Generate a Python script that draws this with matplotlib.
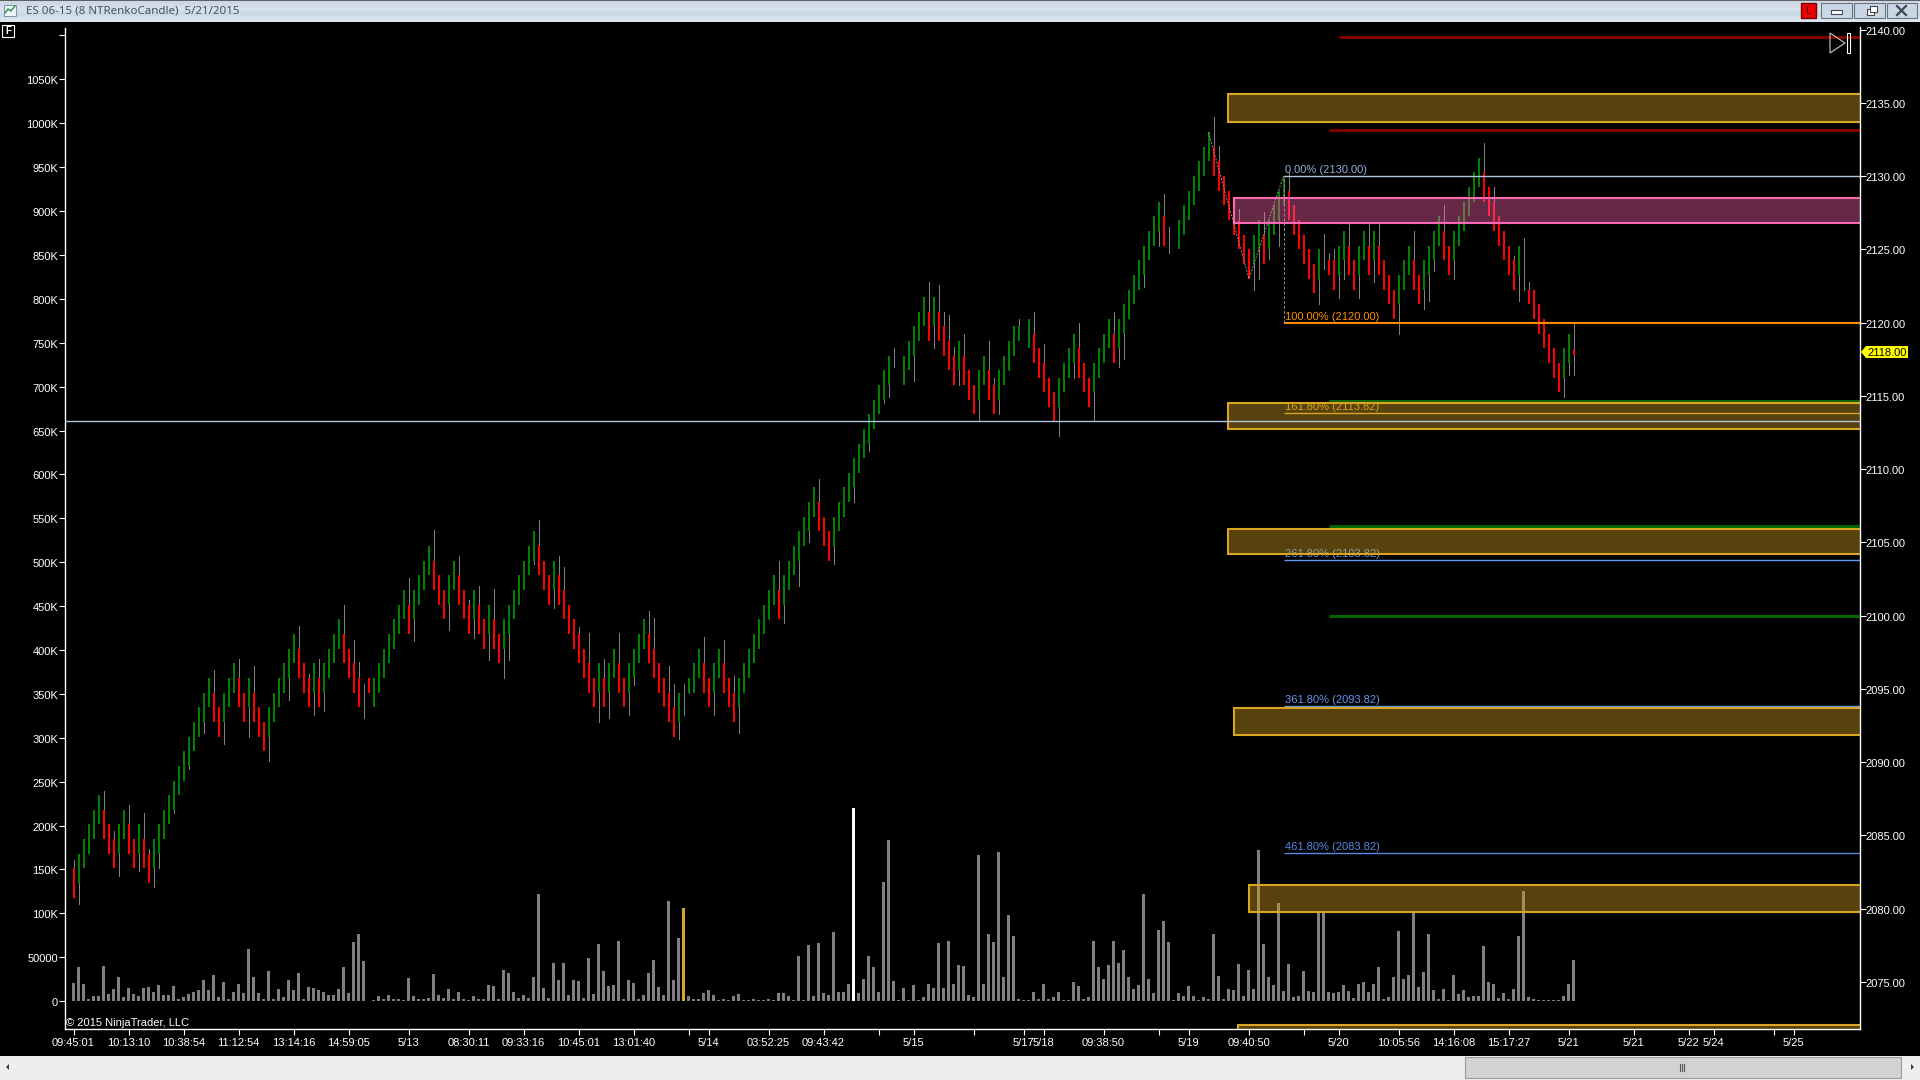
import matplotlib
matplotlib.use('Agg')
import matplotlib.pyplot as plt
from matplotlib.patches import Rectangle, Polygon
from matplotlib.transforms import ScaledTranslation

plt.rcParams['font.family'] = ['Liberation Sans', 'DejaVu Sans']

# top of each renko body, None where the bar has only a wick
candle_top = [
    2082.75, 2083.75, 2084.75, 2085.75, 2086.75, 2087.75, 2086.75, 2085.75, 2084.75, 2085.75,
    2086.75, 2085.75, 2084.75, 2085.75, 2084.75, 2083.75, 2084.75, 2085.75, 2086.75, 2087.75,
    2088.75, 2089.75, 2090.75, 2091.75, 2092.75, 2093.75, 2094.75, 2095.75, 2094.75, 2093.75,
    2094.75, 2095.75, 2096.75, 2095.75, 2094.75, 2095.75, 2094.75, 2093.75, 2092.75, 2093.75,
    2094.75, 2095.75, 2096.75, 2097.75, 2098.75, 2097.75, 2096.75, 2095.75, 2096.75, 2095.75,
    2096.75, 2097.75, 2098.75, 2099.75, 2098.75, 2097.75, 2096.75, 2095.75, None, 2095.75,
    2095.75, 2096.75, 2097.75, 2098.75, 2099.75, 2100.75, 2101.75, 2100.75, 2101.75, 2102.75,
    2103.75, 2104.75, 2103.75, 2102.75, 2101.75, 2102.75, 2103.75, 2102.75, 2101.75, 2100.75,
    2101.75, 2100.75, 2099.75, 2100.75, 2099.75, 2098.75, 2099.75, 2100.75, 2101.75, 2102.75,
    2103.75, 2104.75, 2105.75, 2104.75, 2103.75, 2102.75, 2103.75, 2102.75, 2101.75, 2100.75,
    2099.75, 2098.75, 2097.75, 2096.75, 2095.75, 2096.75, 2095.75, 2096.75, 2097.75, 2096.75,
    2095.75, 2096.75, 2097.75, 2098.75, 2099.75, 2098.75, 2097.75, 2096.75, 2095.75, 2094.75,
    2093.75, 2094.75, None, 2095.75, 2096.75, 2097.75, 2096.75, 2095.75, 2096.75, 2097.75,
    2096.75, 2095.75, 2094.75, 2095.75, 2096.75, 2097.75, 2098.75, 2099.75, 2100.75, 2101.75,
    2102.75, 2101.75, 2102.75, 2103.75, 2104.75, 2105.75, 2106.75, 2107.75, 2108.75, 2107.75,
    2106.75, 2105.75, 2106.75, 2107.75, 2108.75, 2109.75, 2110.75, 2111.75, 2112.75, 2113.75,
    2114.75, 2115.75, 2116.75, 2117.75, None, None, 2117.75, 2118.75, 2119.75, 2120.75,
    2121.75, 2120.75, 2121.75, 2120.75, 2119.75, 2118.75, 2117.75, 2118.75, 2117.75, 2116.75,
    2115.75, 2116.75, 2117.75, 2116.75, 2115.75, 2116.75, 2117.75, 2118.75, 2119.75, 2119.75,
    None, 2120.25, 2119.25, 2118.25, 2117.25, 2116.25, 2115.25, 2116.25, 2117.25, 2118.25,
    2119.25, 2118.25, 2117.25, 2116.25, 2117.25, 2118.25, 2119.25, 2120.25, 2119.25, 2120.25,
    2121.25, 2122.25, 2123.25, 2124.25, 2125.25, 2126.25, 2127.25, 2128.25, 2127.25, None,
    None, 2127, 2128, 2129, 2130, 2131, 2132, 2133, 2132, 2131,
    2130, 2129, 2128, 2127, 2126, 2125, 2126, 2127, 2126, 2127,
    2128, 2129, 2130, 2129, 2128, 2127, 2126, 2125, 2124, 2125,
    None, 2124.25, 2124.25, 2125.25, 2126.25, 2125.25, 2124.25, 2125.25, 2126.25, 2125.25,
    2126.25, 2125.25, 2124.25, 2123.25, 2122.25, 2123.25, 2124.25, 2125.25, 2124.25, 2123.25,
    2124.25, 2125.25, 2126.25, 2127.25, 2126.25, 2125.25, 2126.25, 2127.25, 2128.25, 2129.25,
    2130.25, 2131.25, 2130.25, 2129.25, 2128.25, 2127.25, 2126.25, 2125.25, 2124.25, 2125.25,
    None, 2122.25, 2122.25, 2121.25, 2120.25, 2119.25, 2118.25, 2117.25, 2118.25, 2119.25,
    2118.1,
]
candle_dir = (
    "RGGGGGRRRG" "GRRGRRGGGG" "GGGGGGGGRR" "GGGRRGRRRG" "GGGGGRRRGR" "GGGGRRRR.R"
    "GGGGGGGRGG" "GGRRRGGRRR" "GRRGRRGGGG" "GGGRRRGRRR" "RRRRRGRGGR" "RGGGGRRRRR"
    "RG.GGGRRGG" "RRRGGGGGGG" "GRGGGGGGGR" "RRGGGGGGGG" "GGGG..GGGG" "GRGRRRRGRR"
    "RGGRRGGGGG" ".GRRRRRGGG" "GRRRGGGGRG" "GGGGGGGGR." ".GGGGGGGRR" "RRRRRRGGRG"
    "GGGRRRRRRG" ".RRGGRRGGR" "GRRRRGGGRR" "GGGGRRGGGG" "GGRRRRRRRG" ".RRRRRRRGGR"
)
# bodies are 2 points tall except these
short_body = {59: 1, 123: 1, 189: 1, 251: 1, 291: 1, 300: 0.3}

wick_high = {
    0: 2083.3, 6: 2088.05, 8: 2085.3, 11: 2087.05, 14: 2086.55, 15: 2084.1, 28: 2096.3, 33: 2097.05,
    36: 2096.55, 45: 2099.3, 47: 2096.05, 49: 2097.05, 54: 2100.75, 56: 2098.35, 57: 2096.85, 58: 2095.35,
    67: 2102.55, 72: 2105.85, 77: 2104.05, 79: 2101.05, 81: 2102.05, 84: 2101.8, 93: 2106.55, 97: 2104.05,
    98: 2103.35, 101: 2099.25, 103: 2098.8, 106: 2097.05, 109: 2098.8, 115: 2100.35, 116: 2099.85,
    119: 2096.55, 120: 2095.35, 122: 2095.35, 126: 2098.55, 130: 2098.35, 132: 2095.85, 141: 2103.75,
    149: 2109.35, 164: 2118.25, 171: 2122.75, 173: 2122.55, 174: 2120.75, 175: 2120.55, 176: 2118.35,
    178: 2119.25, 183: 2118.75, 184: 2116.25, 189: 2120.25, 192: 2120.75, 194: 2118.55, 201: 2120,
    208: 2120.75, 218: 2128.75, 219: 2126.55, 228: 2134.05, 229: 2132.05, 233: 2127.75, 238: 2127.55,
    243: 2130.25, 250: 2126.05, 251: 2124.75, 252: 2125.05, 255: 2126.75, 259: 2126.7, 261: 2126.75,
    268: 2126.25, 274: 2128.05, 282: 2132.25, 284: 2129.25, 288: 2124.55, 290: 2125.75, 291: 2122.75,
    300: 2119.95,
}
wick_low = {
    1: 2080.3, 9: 2082.25, 13: 2082.55, 16: 2081.5, 17: 2082.75, 20: 2086.5, 23: 2089.55, 26: 2092,
    30: 2091.25, 35: 2091.75, 39: 2090.05, 43: 2094.25, 48: 2093.25, 50: 2093.5, 58: 2093.05, 68: 2098.25,
    75: 2099.05, 80: 2098.45, 83: 2096.95, 86: 2095.75, 87: 2096.95, 92: 2103.55, 96: 2100.55, 105: 2092.75,
    107: 2093.05, 111: 2093.25, 112: 2095.25, 121: 2091.55, 122: 2093.25, 123: 2094.75, 128: 2093.25,
    133: 2092, 139: 2099.75, 142: 2099.5, 145: 2102.05, 147: 2105.05, 152: 2103.55, 156: 2107.75,
    159: 2111.25, 162: 2114.5, 163: 2114.95, 164: 2116.95, 168: 2116, 172: 2118.25, 177: 2115.75,
    181: 2113.35, 185: 2113.75, 187: 2116.75, 197: 2112.25, 200: 2116.25, 204: 2113.35, 209: 2116.95,
    210: 2117.5, 214: 2122.45, 217: 2125.25, 219: 2124.75, 236: 2122.2, 237: 2122.95, 239: 2124.35,
    241: 2125.2, 249: 2121.25, 250: 2123.65, 253: 2121.7, 254: 2122.95, 257: 2121.7, 260: 2122.75,
    265: 2119.2, 270: 2120.95, 271: 2121.45, 272: 2123.5, 276: 2122.95, 289: 2121.45, 290: 2122.2,
    298: 2114.95, 299: 2116.45, 300: 2116.45,
}

# volume in thousands
volume_k = [
    21, 39, 19, 2, 6, 6, 40, 8, 14, 27, 5, 15, 8, 6, 15, 16, 11, 18, 7, 7,
    17, 3, 5, 8, 10, 12.5, 24, 12.5, 30, 5, 22, 2, 11, 20, 9, 59, 28, 9, 3, 34,
    3, 14, 5, 24, 13, 32, 2, 16, 15, 13, 10, 7, 7, 14, 39, 9, 67, 76, 46, 0,
    1, 6, 3, 7, 2, 2, 1, 26, 6, 3, 3, 4, 31, 7, 4, 14, 2, 11, 2, 1,
    6, 3, 2, 18, 17, 3, 35, 32, 10, 4, 7, 4, 27, 122, 15, 4, 44, 24, 44, 7,
    24, 23, 4, 49, 8, 65, 34, 17, 18, 69, 3, 24, 21, 2, 7, 32, 47, 16, 7, 114,
    24, 72, 106, 6, 2, 2, 9, 12.5, 7, 1, 3, 1, 6, 8, 1, 1, 2, 1, 1, 3,
    1, 9, 9, 6, 1, 52, 1, 64, 6, 66, 9, 7, 79, 10, 10, 19, 220, 9, 25, 52,
    39, 10, 136, 184, 23, 1, 15, 1, 18, 1, 5, 19, 15, 66, 15, 68, 20, 41, 40, 7,
    5, 166, 20, 76, 67, 170, 27, 98, 74, 3, 1, 1, 10, 2, 20, 2, 5, 10, 1, 1,
    22, 17, 2, 5, 68, 39, 25, 41, 69, 43, 58, 27, 14, 18, 122, 25, 9, 81, 91, 67,
    1, 9, 6, 17, 6, 1, 5, 2, 77, 29, 3, 14, 13, 42, 6, 35, 14, 172, 65, 27,
    18, 112, 12, 42, 5, 6, 34, 12, 11, 101, 101, 10, 9, 10, 18, 12, 4, 20, 22, 10,
    19, 39, 3, 5, 27, 80, 25, 30, 103, 16, 33, 77, 13, 2, 14, 1, 30, 8, 13, 5,
    6, 6, 63, 22, 20, 4, 9, 3, 14, 74, 126, 5, 3, 1, 1, 1, 1, 1, 6, 19,
    47,
]
volume_accent = {122: '#daa520', 156: '#ffffff'}

x_ticks = [0, 11, 22, 33, 44, 55, 67, 79, 90, 101, 112, 123, 127, 139, 150, 161, 168, 180, 190, 194,
           206, 217, 223, 235, 246, 253, 265, 276, 287, 299, 312, 323, 328, 340, 344]
x_labels = ['09:45:01', '10:13:10', '10:38:54', '11:12:54', '13:14:16', '14:59:05', '5/13', '08:30:11',
            '09:33:16', '10:45:01', '13:01:40', '', '5/14', '03:52:25', '09:43:42', '', '5/15', '',
            '5/17', '5/18', '09:38:50', '', '5/19', '09:40:50', '', '5/20', '10:05:56', '14:16:08',
            '15:17:27', '5/21', '5/21', '5/22', '5/24', '', '5/25']
price_ticks = [2075, 2080, 2085, 2090, 2095, 2100, 2105, 2110, 2115, 2120, 2125, 2130, 2135, 2140]
vol_ticks = [0, 50, 100, 150, 200, 250, 300, 350, 400, 450, 500, 550, 600, 650, 700, 750, 800, 850,
             900, 950, 1000, 1050, 1100]

# zones: first bar (may sit between bars), low, high, edge colour
zone_start = [230.8, 232, 230.8, 230.8, 232, 235, 232.8]
zone_low = [2133.7, 2126.83, 2112.72, 2104.19, 2091.88, 2079.75, 2071]
zone_high = [2135.6, 2128.5, 2114.54, 2105.92, 2093.7, 2081.64, 2072.06]
zone_color = ['#daa520', '#ff69b4', '#daa520', '#daa520', '#daa520', '#daa520', '#daa520']

# swing support/resistance lines
level_price = [2139.5, 2133.15, 2114.65, 2106.1, 2100]
level_start = [253, 251, 251, 251, 251]
level_color = ['#800000', '#800000', '#006400', '#006400', '#006400']

fib_labels = ['0.00% (2130.00)', '100.00% (2120.00)', '161.80% (2113.82)', '261.80% (2103.82)',
              '361.80% (2093.82)', '461.80% (2083.82)']
fib_prices = [2130, 2120, 2113.82, 2103.82, 2093.82, 2083.82]
fib_colors = ['#b0c4de', '#ff8c00', '#daa520', '#6495ed', '#6495ed', '#5b87e0']
fib_text_colors = ['#8fb0dc', '#ff8c00', '#daa520', '#6495ed', '#6495ed', '#5b87e0']
fib_width = [1, 1.5, 1, 1, 1, 1]
swing_x = [227, 235.1, 242]
swing_y = [2133, 2123, 2130]
h_line_price = 2113.27

W, H = 1920, 1080
fig = plt.figure(figsize=(19.2, 10.8), dpi=100, facecolor='black')
L, R, T, B = 64.5, 1859.5, 22, 1029
ax_vol = fig.add_axes([L / W, 1 - B / H, (R - L) / W, (B - T) / H], facecolor='black')
ax = ax_vol.twinx()
ax.patch.set_visible(False)

ax_vol.set_xlim(-1.8, 357.2)
ax_vol.set_ylim(-31.7, 1115.3)
ax.set_ylim(2071.79, 2140.52)

# volume
vol_colors = [volume_accent.get(i, '#808080') for i in range(len(volume_k))]
ax_vol.bar(range(len(volume_k)), volume_k, width=0.6, color=vol_colors, linewidth=0, antialiased=False)

# candles
for i, top in enumerate(candle_top):
    hi = wick_high.get(i, top)
    lo = wick_low.get(i, top)
    if hi is not None and lo is not None:
        ax.vlines(i, lo, hi, color='#808080', linewidth=0.72, zorder=2, antialiased=False)
    if top is None:
        continue
    h = short_body.get(i, 2)
    ax.bar(i, h, bottom=top - h, width=0.4, linewidth=0, zorder=2.2, antialiased=False,
           color='#008000' if candle_dir[i] == 'G' else '#ff0000')

# fib retracement
for label, p, c, tc, w in zip(fib_labels, fib_prices, fib_colors, fib_text_colors, fib_width):
    ax.plot([242, 357.2], [p, p], color=c, linewidth=w, zorder=2.4, solid_capstyle='butt')
    ax.annotate(label, (242, p), xytext=(1, 0.8), textcoords='offset points', color=tc, fontsize=8,
                va='bottom', ha='left', zorder=2.4)
ax.plot([242, 242], [2120, 2130], color='#909090', linewidth=0.7, linestyle=(0, (3, 2)), zorder=2.5)
ax.plot(swing_x, swing_y, color='#909090', linewidth=0.7, linestyle=(0, (2, 1.5)), zorder=2.5)

for p, s, c in zip(level_price, level_start, level_color):
    ax.plot([s, 357.2], [p, p], color=c, linewidth=2.2, zorder=2.4, solid_capstyle='butt')

for s, lo, hi, c in zip(zone_start, zone_low, zone_high, zone_color):
    ax.add_patch(Rectangle((s, lo), 357.2 - s, hi - lo, facecolor=c, alpha=0.4, linewidth=0, zorder=3))
    ax.add_patch(Rectangle((s, lo), 362 - s, hi - lo, facecolor='none', edgecolor=c, linewidth=1.5, zorder=3.1))

ax.axhline(h_line_price, color='#b0c4de', linewidth=1, zorder=3.2)

# axes
for a in (ax_vol, ax):
    for s in a.spines.values():
        s.set_color('white')
        s.set_linewidth(1)
        s.set_zorder(5)
    a.spines['top'].set_visible(False)
ax_vol.spines['right'].set_visible(False)
ax.spines['left'].set_visible(False)
ax.spines['bottom'].set_visible(False)
ax_vol.spines['left'].set_bounds(-31.7, 1109)
ax.spines['right'].set_bounds(2071.79, 2140.18)

ax_vol.set_xticks(x_ticks)
ax_vol.set_xticklabels(x_labels)
ax_vol.set_yticks(vol_ticks)
ax_vol.set_yticklabels(['0', '50000'] + [f'{v}K' for v in vol_ticks[2:-1]] + [''])
ax.set_yticks(price_ticks)
ax.set_yticklabels([f'{p:.2f}' for p in price_ticks])
ax_vol.tick_params(axis='x', colors='white', length=4, width=0.8, labelsize=8, pad=2.3)
ax_vol.tick_params(axis='y', colors='white', length=4, width=0.8, labelsize=8, pad=0.5)
ax.tick_params(axis='y', colors='white', length=4, width=0.8, labelsize=8, pad=0.5)

# y labels sit a pixel lower than matplotlib centres them
nudge = ScaledTranslation(0, -1 / 100, fig.dpi_scale_trans)
for lab in ax.get_yticklabels() + ax_vol.get_yticklabels():
    lab.set_transform(lab.get_transform() + nudge)

# window chrome, in pixels
chrome = fig.add_axes([0, 0, 1, 1], facecolor='none', zorder=10)

title_rows = [[[0.80, 0.85, 0.90]], [[0.85, 0.89, 0.93]], [[0.79, 0.85, 0.90]], [[0.86, 0.90, 0.94]]]
chrome.imshow(title_rows, extent=(0, W, 22, 1), aspect='auto', interpolation='bilinear')
chrome.set_xlim(0, W)
chrome.set_ylim(H, 0)
chrome.axis('off')
chrome.add_patch(Rectangle((0, 0), W, 1, facecolor='#606060', linewidth=0))
chrome.add_patch(Rectangle((4, 5), 12, 11, facecolor='#eef3fa', edgecolor='#7f93ad', linewidth=0.7))
chrome.plot([5, 8, 11, 15], [13, 9, 11, 6], color='#2f8f3f', linewidth=1)
chrome.text(26, 11, 'ES 06-15 (8 NTRenkoCandle)  5/21/2015', family='Noto Sans', fontsize=8.3,
            color='#46505c', va='center', ha='left')
chrome.add_patch(Rectangle((1801, 3), 15, 15, facecolor='#ee0000', edgecolor='#7a0000', linewidth=1))
chrome.text(1808.5, 10.5, 'L', color='#500000', fontsize=8, va='center', ha='center')
for bx, bw in [(1821, 31), (1854, 31), (1887, 30)]:
    chrome.add_patch(Rectangle((bx, 3), bw, 15, facecolor='#c9d6e4', edgecolor='#6c7480', linewidth=0.8))
chrome.add_patch(Rectangle((1831, 10), 11, 4, facecolor='white', edgecolor='#404850', linewidth=0.8))
chrome.add_patch(Rectangle((1867, 9), 7, 6, facecolor='white', edgecolor='#404850', linewidth=0.8))
chrome.add_patch(Rectangle((1870, 6), 7, 6, facecolor='white', edgecolor='#404850', linewidth=0.8))
chrome.plot([1897, 1906], [6, 15], color='#404850', linewidth=1.6)
chrome.plot([1897, 1906], [15, 6], color='#404850', linewidth=1.6)

chrome.add_patch(Rectangle((2, 24.5), 12, 12, facecolor='black', edgecolor='white', linewidth=0.8))
chrome.text(8, 30.5, 'F', color='white', fontsize=7, va='center', ha='center', fontweight='bold')

chrome.add_patch(Polygon([(1830, 33), (1845, 43), (1830, 53)], closed=True, facecolor='none',
                         edgecolor='#c8c8c8', linewidth=0.8))
chrome.add_patch(Rectangle((1846.5, 33), 3.5, 20, facecolor='none', edgecolor='white', linewidth=0.8))

chrome.add_patch(Polygon([(1861, 352), (1866, 346), (1908, 346), (1908, 358), (1866, 358)], closed=True,
                         facecolor='#ffff00', edgecolor='none'))
chrome.text(1887, 352.5, '2118.00', color='black', fontsize=8, va='center', ha='center')

chrome.text(66, 1023.5, '\u00a9 2015 NinjaTrader, LLC', color='white', fontsize=8, va='center', ha='left')

chrome.add_patch(Rectangle((0, 1056), W, 24, facecolor='#eeeeee', linewidth=0))
chrome.add_patch(Rectangle((1465, 1057), 436, 21, facecolor='#d2d2d2', edgecolor='#9a9a9a', linewidth=0.8))
for gx in (1680, 1682, 1684):
    chrome.plot([gx, gx], [1064, 1071], color='#555555', linewidth=0.8)
chrome.add_patch(Polygon([(6, 1067), (9, 1064), (9, 1070)], closed=True, facecolor='#404040'))
chrome.add_patch(Polygon([(1914, 1067), (1911, 1064), (1911, 1070)], closed=True, facecolor='#404040'))

fig.savefig('out.png', dpi=100, facecolor='black')
